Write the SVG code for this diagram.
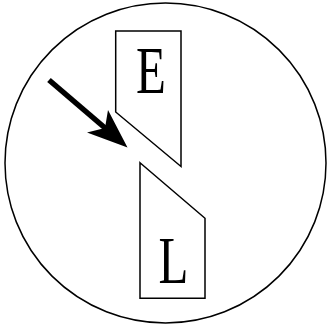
<svg xmlns="http://www.w3.org/2000/svg" width="329" height="327" viewBox="0 0 329 327">
<style>
.sh{fill:#fff;stroke:#000;stroke-width:1.5}
.lb{font-family:"Liberation Serif","Times New Roman",serif;font-size:67px;fill:#000}
</style>
<rect width="329" height="327" fill="#fff"/>
<g id="boundary"><ellipse class="sh" cx="165.5" cy="163" rx="160.5" ry="160"/></g>
<g id="E">
<polygon class="sh" points="115.7,31 181,31 181,166.5 115.7,112"/>
<text class="lb" transform="translate(136,93.3) scale(0.73,1)">E</text>
</g>
<g id="L">
<polygon class="sh" points="140,162.7 205,218.3 205,298.3 140,298.3"/>
<text class="lb" transform="translate(158.5,283.3) scale(0.73,1)">L</text>
</g>
<g id="connectors">
<line x1="49" y1="80" x2="108" y2="130.5" stroke="#000" stroke-width="5.5"/>
<polygon points="127.5,147.5 108,110 105,128 87,132.5" fill="#000"/>
</g>
</svg>
